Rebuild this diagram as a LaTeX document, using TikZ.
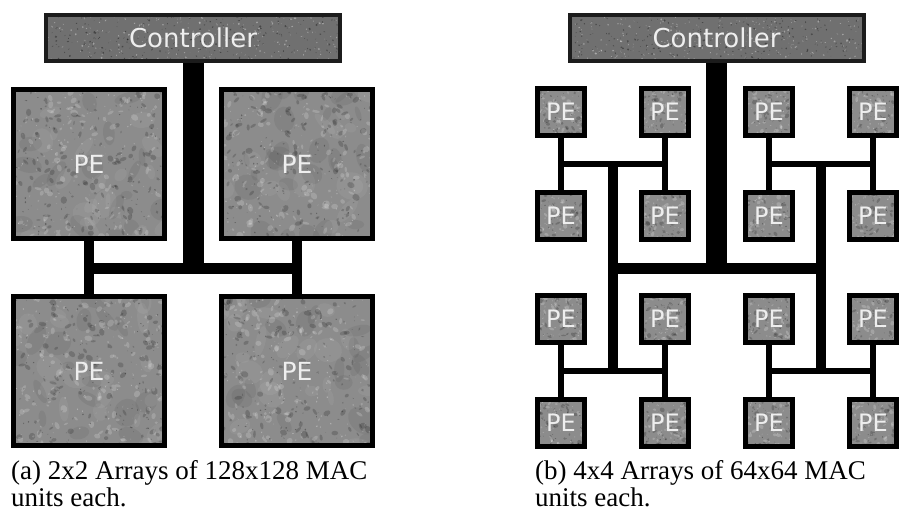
\documentclass[tikz,border=0pt]{standalone}
\usepackage{fontspec}
\usetikzlibrary{calc,backgrounds}
\newfontfamily\labelsans{DejaVu Sans}
\newfontfamily\captionserif{Liberation Serif}

\definecolor{stone}{HTML}{8C8C8C}
\definecolor{granite}{HTML}{707070}
\definecolor{rim}{HTML}{1C1C1C}
\definecolor{labelgray}{HTML}{EEEEEE}

% random light/dark streaks around the centre (gc) of a box:
% #1 count, #2 width, #3 height, #4 min radius, #5 radius spread, #6 opacity
\newcommand\speckle[6]{%
  \foreach \k in {1,...,#1}{%
    \pgfmathsetmacro{\gx}{(rnd-0.5)*#2}%
    \pgfmathsetmacro{\gy}{(rnd-0.5)*#3}%
    \pgfmathsetmacro{\gr}{#4+rnd*#5}%
    \pgfmathsetmacro{\gq}{\gr*(0.3+rnd*0.6)}%
    \pgfmathsetmacro{\ga}{rnd*180}%
    \pgfmathsetmacro{\gt}{rnd}%
    \ifdim\gt pt<0.5pt
      \fill[white,opacity=#6] ($(gc)+(\gx,\gy)$)
        circle[x radius=\gr, y radius=\gq, rotate=\ga];
    \else
      \fill[black,opacity=#6] ($(gc)+(\gx,\gy)$)
        circle[x radius=\gr, y radius=\gq, rotate=\ga];
    \fi
  }}

\tikzset{
  x=1pt, y=-1pt,
  ctrlbox/.style={draw=rim, line width=4pt, fill=granite,
    minimum width=294pt, minimum height=46pt, inner sep=0pt,
    text=labelgray, font=\labelsans\fontsize{26}{26}\selectfont,
    path picture={
      \path (path picture bounding box.center) coordinate (gc);
      \speckle{550}{296}{48}{0.4}{0.9}{0.35}
    }},
  bigpe/.style={draw=black, line width=5pt, fill=stone,
    minimum width=151pt, minimum height=149pt, inner sep=0pt,
    text=labelgray, font=\labelsans\fontsize{25}{25}\selectfont,
    path picture={
      \path (path picture bounding box.center) coordinate (gc);
      \speckle{40}{152}{150}{6}{10}{0.06}
      \speckle{260}{152}{150}{1}{3}{0.18}
      \speckle{200}{152}{150}{0.4}{0.7}{0.3}
    }},
  smallpe/.style={draw=black, line width=5pt, fill=stone,
    minimum width=47pt, minimum height=47pt, inner sep=0pt,
    text=labelgray, font=\labelsans\fontsize{24}{24}\selectfont,
    path picture={
      \path (path picture bounding box.center) coordinate (gc);
      \speckle{70}{48}{48}{0.8}{2}{0.2}
      \speckle{60}{48}{48}{0.4}{0.6}{0.3}
    }},
  stem/.style={line width=21pt},
  bus/.style={line width=11pt},
  trunk/.style={line width=10pt},
  wire/.style={line width=5.5pt},
  captext/.style={anchor=base west, inner sep=0pt,
    font=\captionserif\fontsize{27}{27}\selectfont},
}

\begin{document}
\begin{tikzpicture}
\pgfmathsetseed{7}
\useasboundingbox (0,0) rectangle (901,516);

% ---- (a) 2x2 arrangement ----
\node[ctrlbox] (ctrlA) at (193,38) {Controller};
\node[bigpe] (a11) at (89,164) {PE};
\node[bigpe] (a12) at (297,164) {PE};
\node[bigpe] (a21) at (89,371) {PE};
\node[bigpe] (a22) at (297,371) {PE};
\coordinate (jA) at (193,268);

% ---- (b) 4x4 arrangement ----
\node[ctrlbox] (ctrlB) at (716.5,38) {Controller};
\foreach \c/\x in {1/561,2/665,3/769,4/873}{
  \foreach \r/\y in {1/112,2/216,3/319,4/423}{
    \node[smallpe] (b\r\c) at (\x,\y) {PE};
  }
}
\coordinate (uL) at ($(b11.center)!0.5!(b22.center)$);
\coordinate (uR) at ($(b13.center)!0.5!(b24.center)$);
\coordinate (dL) at ($(b31.center)!0.5!(b42.center)$);
\coordinate (dR) at ($(b33.center)!0.5!(b44.center)$);
\coordinate (jB) at (716.5,268);

\begin{pgfonlayer}{background}
  \fill[white] (0,0) rectangle (901,516);
  % (a) links
  \draw[trunk] (a11.center) -- (a21.center);
  \draw[trunk] (a12.center) -- (a22.center);
  \draw[bus] (a11.center |- jA) -- (a12.center |- jA);
  \draw[stem] (ctrlA.south) -- (jA);
  % (b) pair wires
  \foreach \c in {1,2,3,4}{
    \draw[wire] (b1\c.center) -- (b2\c.center);
    \draw[wire] (b3\c.center) -- (b4\c.center);
  }
  \draw[wire] (b11.center |- uL) -- (b12.center |- uL);
  \draw[wire] (b13.center |- uR) -- (b14.center |- uR);
  \draw[wire] (b31.center |- dL) -- (b32.center |- dL);
  \draw[wire] (b33.center |- dR) -- (b34.center |- dR);
  % (b) trunks, bus and stem
  \draw[trunk] (uL) -- (dL);
  \draw[trunk] (uR) -- (dR);
  \draw[bus] (uL |- jB) -- (uR |- jB);
  \draw[stem] (ctrlB.south) -- (jB);
\end{pgfonlayer}

% ---- captions ----
\node[captext] (capA1) at (11,479) {(a) 2x2 Arrays of 128x128 MAC};
\node[captext] (capA2) at (11,506) {units each.};
\node[captext] (capB1) at (535,479) {(b) 4x4 Arrays of 64x64 MAC};
\node[captext] (capB2) at (535,506) {units each.};
\end{tikzpicture}
\end{document}
